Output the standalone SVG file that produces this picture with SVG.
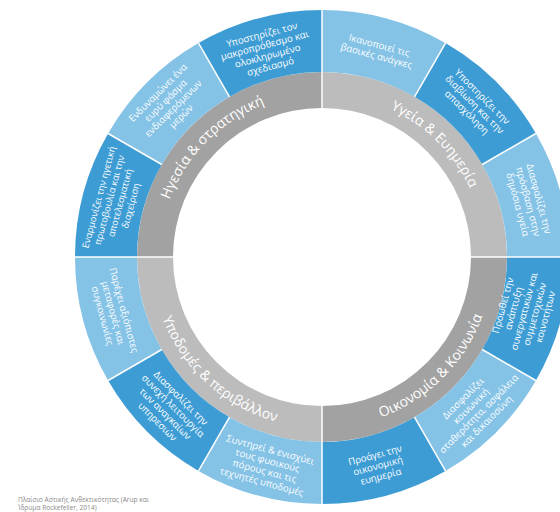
<svg xmlns="http://www.w3.org/2000/svg" width="560" height="512" viewBox="0 0 560 512">
<style>
.dk{fill:#3d9cd4}
.lt{fill:#84c2e6}
.g1{fill:#a2a2a2}
.g2{fill:#bcbcbc}
.bt{font-family:"Open Sans","Noto Sans","DejaVu Sans",sans-serif;font-size:9.6px;fill:#ffffff;text-anchor:middle}
.gt{font-family:"Open Sans","Noto Sans","DejaVu Sans",sans-serif;font-size:14px;fill:#ffffff;text-anchor:middle}
.div line{stroke:#ffffff;stroke-width:1.5}
.cap{font-family:"Open Sans","Noto Sans","DejaVu Sans",sans-serif;font-size:6.6px;fill:#8a8a8a}
</style>
<defs>
<path id="aTL" d="M159,257 A163,163 0 0 1 322,94"/>
<path id="aTR" d="M322,94 A163,163 0 0 1 485,257"/>
<path id="aBL" d="M151,257 A171,171 0 0 0 322,428"/>
<path id="aBR" d="M322,428 A171,171 0 0 0 493,257"/>
</defs>
<rect width="560" height="512" fill="#ffffff"/>

<g id="ring-gray">
<g id="q-leadership"><path class="g1" d="M137,257 A185,185 0 0 1 322,72 L322,108 A149,149 0 0 0 173,257 Z"/>
<text class="gt"><textPath href="#aTL" startOffset="50%">Ηγεσία &amp; στρατηγική</textPath></text></g>
<g id="q-health"><path class="g2" d="M322,72 A185,185 0 0 1 507,257 L471,257 A149,149 0 0 0 322,108 Z"/>
<text class="gt"><textPath href="#aTR" startOffset="50%">Υγεία &amp; Ευημερία</textPath></text></g>
<g id="q-economy"><path class="g1" d="M507,257 A185,185 0 0 1 322,442 L322,406 A149,149 0 0 0 471,257 Z"/>
<text class="gt"><textPath href="#aBR" startOffset="50%">Οικονομία &amp; Κοινωνία</textPath></text></g>
<g id="q-infra"><path class="g2" d="M322,442 A185,185 0 0 1 137,257 L173,257 A149,149 0 0 0 322,406 Z"/>
<text class="gt"><textPath href="#aBL" startOffset="53%">Υποδομές &amp; περιβάλλον</textPath></text></g>
</g>

<g id="ring-blue">
<g id="s0"><path class="lt" d="M322,10 A247,247 0 0 1 445.5,43.1 L414.5,96.8 A185,185 0 0 0 322,72 Z"/>
<text class="bt" transform="translate(377.9,50.4) rotate(15)"><tspan x="0" y="-2">Ικανοποιεί τις</tspan><tspan x="0" y="9">βασικές ανάγκες</tspan></text></g>
<g id="s1"><path class="dk" d="M445.5,43.1 A247,247 0 0 1 535.9,133.5 L482.2,164.5 A185,185 0 0 0 414.5,96.8 Z"/>
<text class="bt" transform="translate(474.7,104.3) rotate(45)"><tspan x="0" y="-7.5">Υποστηρίζει την</tspan><tspan x="0" y="3.5">διαβίωση και την</tspan><tspan x="0" y="14.5">απασχόληση</tspan></text></g>
<g id="s2"><path class="lt" d="M535.9,133.5 A247,247 0 0 1 569,257 L507,257 A185,185 0 0 0 482.2,164.5 Z"/>
<text class="bt" transform="translate(528.6,201.6) rotate(75)"><tspan x="0" y="-7.5">Διασφαλίζει την</tspan><tspan x="0" y="3.5">πρόσβαση στην</tspan><tspan x="0" y="14.5">δημόσια υγεία</tspan></text></g>
<g id="s3"><path class="dk" d="M569,257 A247,247 0 0 1 535.9,380.5 L482.2,349.5 A185,185 0 0 0 507,257 Z"/>
<text class="bt" transform="translate(523.9,311.1) rotate(-75)"><tspan x="0" y="-18.5">Προωθεί την</tspan><tspan x="0" y="-7.5">ανάπτυξη</tspan><tspan x="0" y="3.5">συνεργατικών και</tspan><tspan x="0" y="14.5">συμμετοχικών</tspan><tspan x="0" y="25.5">κοινοτήτων</tspan></text></g>
<g id="s4"><path class="lt" d="M535.9,380.5 A247,247 0 0 1 445.5,470.9 L414.5,417.2 A185,185 0 0 0 482.2,349.5 Z"/>
<text class="bt" transform="translate(474.7,409.7) rotate(-45)"><tspan x="0" y="-13">Διασφαλίζει</tspan><tspan x="0" y="-2">κοινωνική</tspan><tspan x="0" y="9">σταθερότητα, ασφάλεια</tspan><tspan x="0" y="20">και δικαιοσύνη</tspan></text></g>
<g id="s5"><path class="dk" d="M445.5,470.9 A247,247 0 0 1 322,504 L322,442 A185,185 0 0 0 414.5,417.2 Z"/>
<text class="bt" transform="translate(377.9,465.6) rotate(-15)"><tspan x="0" y="-7.5">Προάγει την</tspan><tspan x="0" y="3.5">οικονομική</tspan><tspan x="0" y="14.5">ευημερία</tspan></text></g>
<g id="s6"><path class="lt" d="M322,504 A247,247 0 0 1 198.5,470.9 L229.5,417.2 A185,185 0 0 0 322,442 Z"/>
<text class="bt" transform="translate(266.1,465.6) rotate(15)"><tspan x="0" y="-13">Συντηρεί &amp; ενισχύει</tspan><tspan x="0" y="-2">τους φυσικούς</tspan><tspan x="0" y="9">πόρους και τις</tspan><tspan x="0" y="20">τεχνητές υποδομές</tspan></text></g>
<g id="s7"><path class="dk" d="M198.5,470.9 A247,247 0 0 1 108.1,380.5 L161.8,349.5 A185,185 0 0 0 229.5,417.2 Z"/>
<text class="bt" transform="translate(169.3,409.7) rotate(45)"><tspan x="0" y="-13">Διασφαλίζει την</tspan><tspan x="0" y="-2">συνεχή λειτουργία</tspan><tspan x="0" y="9">των αναγκαίων</tspan><tspan x="0" y="20">υπηρεσιών</tspan></text></g>
<g id="s8"><path class="lt" d="M108.1,380.5 A247,247 0 0 1 75,257 L137,257 A185,185 0 0 0 161.8,349.5 Z"/>
<text class="bt" transform="translate(113.4,312.9) rotate(75)"><tspan x="0" y="-7.5">Παρέχει αξιόπιστες</tspan><tspan x="0" y="3.5">μεταφορές και</tspan><tspan x="0" y="14.5">συγκοινωνίες</tspan></text></g>
<g id="s9"><path class="dk" d="M75,257 A247,247 0 0 1 108.1,133.5 L161.8,164.5 A185,185 0 0 0 137,257 Z"/>
<text class="bt" transform="translate(114.4,201.4) rotate(-75)" style="font-size:9.2px"><tspan x="0" y="-13">Εναρμονίζει την ηγετική</tspan><tspan x="0" y="-2">πρωτοβουλία και την</tspan><tspan x="0" y="9">αποτελεσματική</tspan><tspan x="0" y="20">διαχείριση</tspan></text></g>
<g id="s10"><path class="lt" d="M108.1,133.5 A247,247 0 0 1 198.5,43.1 L229.5,96.8 A185,185 0 0 0 161.8,164.5 Z"/>
<text class="bt" transform="translate(169.3,104.3) rotate(-45)"><tspan x="0" y="-13">Ενδυναμώνει ένα</tspan><tspan x="0" y="-2">ευρύ φάσμα</tspan><tspan x="0" y="9">ενδιαφερόμενων</tspan><tspan x="0" y="20">μερών</tspan></text></g>
<g id="s11"><path class="dk" d="M198.5,43.1 A247,247 0 0 1 322,10 L322,72 A185,185 0 0 0 229.5,96.8 Z"/>
<text class="bt" transform="translate(266.1,50.4) rotate(-15)"><tspan x="0" y="-13">Υποστηρίζει τον</tspan><tspan x="0" y="-2">μακροπρόθεσμο και</tspan><tspan x="0" y="9">ολοκληρωμένο</tspan><tspan x="0" y="20">σχεδιασμό</tspan></text></g>
</g>

<g id="connectors" class="div">
<line x1="322" y1="108" x2="322" y2="10"/>
<line x1="471" y1="257" x2="569" y2="257"/>
<line x1="322" y1="406" x2="322" y2="504"/>
<line x1="173" y1="257" x2="75" y2="257"/>
<line x1="414.5" y1="96.8" x2="445.5" y2="43.1"/>
<line x1="482.2" y1="164.5" x2="535.9" y2="133.5"/>
<line x1="482.2" y1="349.5" x2="535.9" y2="380.5"/>
<line x1="414.5" y1="417.2" x2="445.5" y2="470.9"/>
<line x1="229.5" y1="417.2" x2="198.5" y2="470.9"/>
<line x1="161.8" y1="349.5" x2="108.1" y2="380.5"/>
<line x1="161.8" y1="164.5" x2="108.1" y2="133.5"/>
<line x1="229.5" y1="96.8" x2="198.5" y2="43.1"/>
</g>

<g id="caption">
<text class="cap" x="18" y="502">Πλαίσιο Αστικής Ανθεκτικότητας (Arup και</text>
<text class="cap" x="18" y="510">Ίδρυμα Rockefeller, 2014)</text>
</g>
</svg>
